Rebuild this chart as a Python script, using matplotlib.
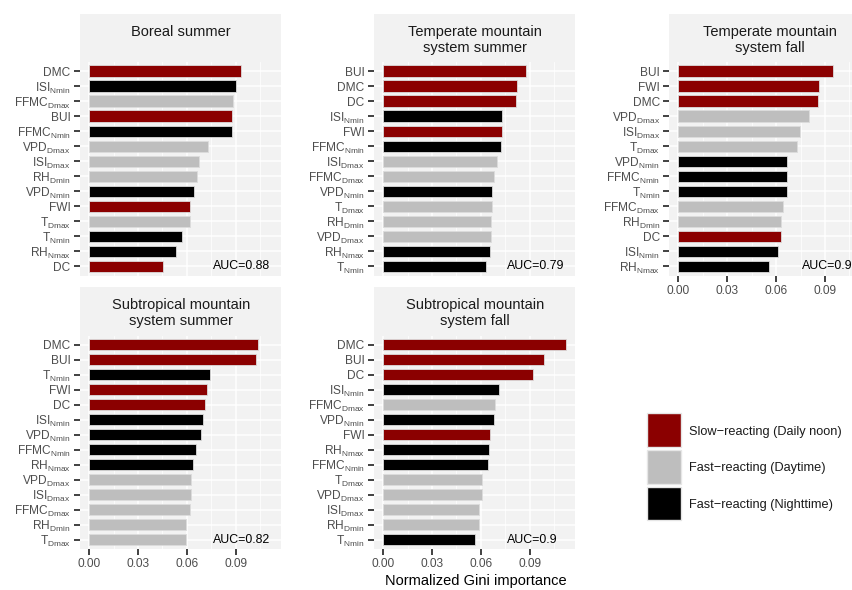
import matplotlib
matplotlib.use("Agg")
import matplotlib.pyplot as plt
from matplotlib.patches import Rectangle

plt.rcParams['font.family'] = ['Liberation Sans', 'DejaVu Sans']
plt.rcParams['mathtext.fontset'] = 'custom'
plt.rcParams['mathtext.rm'] = 'Liberation Sans'
plt.rcParams['mathtext.default'] = 'regular'

# ---- data, top bar first ----
boreal_summer_vars = ['DMC', 'ISI_Nmin', 'FFMC_Dmax', 'BUI', 'FFMC_Nmin', 'VPD_Dmax', 'ISI_Dmax',
                      'RH_Dmin', 'VPD_Nmin', 'FWI', 'T_Dmax', 'T_Nmin', 'RH_Nmax', 'DC']
boreal_summer_vals = [0.0931, 0.0900, 0.0883, 0.0879, 0.0877, 0.0728, 0.0675,
                      0.0663, 0.0646, 0.0622, 0.0618, 0.0569, 0.0536, 0.0454]

tms_summer_vars = ['BUI', 'DMC', 'DC', 'ISI_Nmin', 'FWI', 'FFMC_Nmin', 'ISI_Dmax',
                   'FFMC_Dmax', 'VPD_Nmin', 'T_Dmax', 'RH_Dmin', 'VPD_Dmax', 'RH_Nmax', 'T_Nmin']
tms_summer_vals = [0.0880, 0.0824, 0.0814, 0.0732, 0.0728, 0.0724, 0.0698,
                   0.0679, 0.0671, 0.0667, 0.0663, 0.0662, 0.0655, 0.0634]

tms_fall_vars = ['BUI', 'FWI', 'DMC', 'VPD_Dmax', 'ISI_Dmax', 'T_Dmax', 'VPD_Nmin',
                 'FFMC_Nmin', 'T_Nmin', 'FFMC_Dmax', 'RH_Dmin', 'DC', 'ISI_Nmin', 'RH_Nmax']
tms_fall_vals = [0.0949, 0.0863, 0.0859, 0.0802, 0.0749, 0.0728, 0.0667,
                 0.0667, 0.0666, 0.0640, 0.0628, 0.0627, 0.0612, 0.0558]

sms_summer_vars = ['DMC', 'BUI', 'T_Nmin', 'FWI', 'DC', 'ISI_Nmin', 'VPD_Nmin',
                   'FFMC_Nmin', 'RH_Nmax', 'VPD_Dmax', 'ISI_Dmax', 'FFMC_Dmax', 'RH_Dmin', 'T_Dmax']
sms_summer_vals = [0.1039, 0.1027, 0.0740, 0.0722, 0.0710, 0.0702, 0.0685,
                   0.0654, 0.0640, 0.0628, 0.0624, 0.0618, 0.0597, 0.0593]

sms_fall_vars = ['DMC', 'BUI', 'DC', 'ISI_Nmin', 'FFMC_Dmax', 'VPD_Nmin', 'FWI',
                 'RH_Nmax', 'FFMC_Nmin', 'T_Dmax', 'VPD_Dmax', 'ISI_Dmax', 'RH_Dmin', 'T_Nmin']
sms_fall_vals = [0.1125, 0.0985, 0.0920, 0.0709, 0.0685, 0.0679, 0.0656,
                 0.0648, 0.0644, 0.0609, 0.0608, 0.0591, 0.0587, 0.0562]

titles = ['Boreal summer', 'Temperate mountain\nsystem summer', 'Temperate mountain\nsystem fall',
          'Subtropical mountain\nsystem summer', 'Subtropical mountain\nsystem fall']
auc_labels = ['AUC=0.88', 'AUC=0.79', 'AUC=0.9', 'AUC=0.82', 'AUC=0.9']
xticks = [0.0, 0.03, 0.06, 0.09]

legend_labels = ['Slow\u2212reacting (Daily noon)', 'Fast\u2212reacting (Daytime)',
                 'Fast\u2212reacting (Nighttime)']
group_colors = {'slow': '#8B0000', 'day': '#BEBEBE', 'night': '#000000'}

# ---- layout helpers (pixel coordinates) ----
W, H = 853, 590
BG = '#F2F2F2'
fig = plt.figure(figsize=(W / 100, H / 100), dpi=100)


def px_axes(x0, y0, x1, y1):
    return fig.add_axes([x0 / W, 1 - y1 / H, (x1 - x0) / W, (y1 - y0) / H])


def group_of(var):
    if '_D' in var:
        return 'day'
    if '_N' in var:
        return 'night'
    return 'slow'


def pretty(var):
    if '_' in var:
        base, sub = var.split('_')
        return base + r'$_{\mathregular{' + sub + '}}$'
    return var


cols = [(80, 281.5), (374, 575.5), (669.3, 870.8)]
rows = [(14, 62, 275.5), (287, 335.8, 548.5)]   # strip top, panel top, panel bottom
panel_pos = [(0, 0), (0, 1), (0, 2), (1, 0), (1, 1)]
show_x = [False, False, True, True, True]

all_vars = [boreal_summer_vars, tms_summer_vars, tms_fall_vars, sms_summer_vars, sms_fall_vars]
all_vals = [boreal_summer_vals, tms_summer_vals, tms_fall_vals, sms_summer_vals, sms_fall_vals]
xmax = max(max(v) for v in all_vals)
xlim = (-0.05 * xmax, 1.05 * xmax)

for i, (r, c) in enumerate(panel_pos):
    x0, x1 = cols[c]
    s_top, p_top, p_bot = rows[r]
    # strip background
    fig.add_artist(Rectangle((x0 / W, 1 - p_top / H), (x1 - x0) / W, (p_top - s_top) / H,
                             transform=fig.transFigure, facecolor=BG, edgecolor='none', zorder=0))
    for k, line in enumerate(titles[i].split('\n')):
        fig.text(((x0 + x1) / 2) / W, 1 - (s_top + 18 + 16 * k) / H, line,
                 ha='center', va='center', fontsize=10.5, color='#1A1A1A')

    ax = px_axes(x0, p_top, x1, p_bot)
    ax.set_facecolor(BG)
    names, vals = all_vars[i], all_vals[i]
    n = len(names)
    ypos = [n - 1 - j for j in range(n)]
    ax.barh(ypos, vals, height=0.75, color=[group_colors[group_of(v)] for v in names],
            edgecolor='#DCDCDC', linewidth=0.6, zorder=2)
    ax.set_yticks(ypos)
    ax.set_yticklabels([pretty(v) for v in names])
    for lab in ax.get_yticklabels():
        lab.set_va('center_baseline')
    ax.set_ylim(-0.6, n - 0.4)
    ax.set_xlim(*xlim)
    ax.set_xticks(xticks)
    ax.set_xticks([0.015, 0.045, 0.075, 0.105], minor=True)
    ax.set_xticklabels(['%.2f' % t for t in xticks])
    ax.set_axisbelow(True)
    ax.grid(which='major', color='white', linewidth=1.1)
    ax.grid(which='minor', axis='x', color='white', linewidth=0.55)
    for sp in ax.spines.values():
        sp.set_visible(False)
    ax.tick_params(which='major', length=4.3, width=1.3, color='#333333',
                   labelsize=8.6, labelcolor='#4D4D4D', pad=2.5)
    ax.tick_params(which='minor', length=0)
    if not show_x[i]:
        ax.tick_params(axis='x', length=0, labelbottom=False)
    ax.text(0.076, ypos[-1], auc_labels[i], ha='left', va='center', fontsize=8.9, color='black', zorder=3)

fig.text(475.5 / W, 1 - 581.5 / H, 'Normalized Gini importance', ha='center', va='center',
         fontsize=10.5, color='black')

# legend drawn in the empty sixth slot
key_tops = [413, 450, 486.7]
for lab, grp, top in zip(legend_labels, ['slow', 'day', 'night'], key_tops):
    fig.add_artist(Rectangle((646.7 / W, 1 - (top + 33.5) / H), 34 / W, 33.5 / H,
                             transform=fig.transFigure, facecolor=group_colors[grp],
                             edgecolor='#E6E6E6', linewidth=1.0))
    fig.text(689 / W, 1 - (top + 18.5) / H, lab, ha='left', va='center', fontsize=9.2, color='#1A1A1A')

fig.savefig('out.png', dpi=100, facecolor='white')
